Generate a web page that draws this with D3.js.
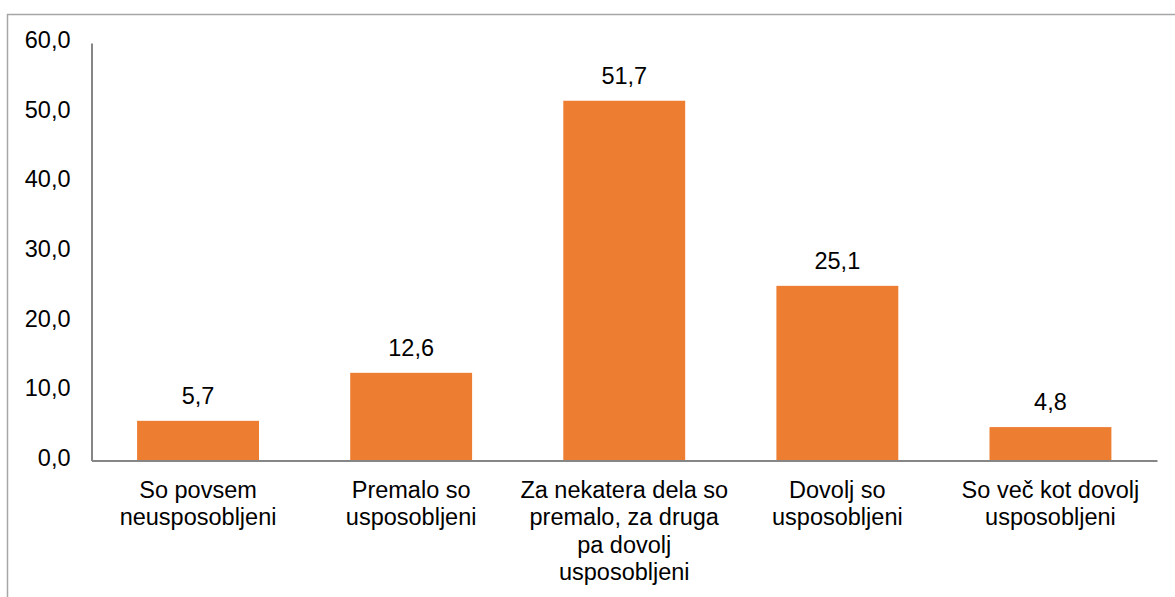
<!DOCTYPE html>
<html>
<head>
<meta charset="utf-8">
<script src="https://cdn.jsdelivr.net/npm/d3@7"></script>
<style>
  html, body { margin: 0; padding: 0; background: #fff; }
  svg text { font-family: "Liberation Sans", Arial, sans-serif; fill: #000; }
</style>
</head>
<body>
<svg id="chart" width="1175" height="597"></svg>
<script>
// categories (already broken into lines like the original)
var categories = [
	["So povsem", "neusposobljeni"],
	["Premalo so", "usposobljeni"],
	["Za nekatera dela so", "premalo, za druga", "pa dovolj", "usposobljeni"],
	["Dovolj so", "usposobljeni"],
	["So več kot dovolj", "usposobljeni"]
];
var values = [5.7, 12.6, 51.7, 25.1, 4.8];
var yTicks = [0, 10, 20, 30, 40, 50, 60];

var plot = {left: 91.5, right: 1157, top: 43, bottom: 460.5};
var fontSize = 23.5;
var fmt = function(v) { return d3.format(".1f")(v).replace('.', ','); };

var svg = d3.select('#chart');

// outer frame of the chart area (cut off on right and bottom)
svg.append('rect')
	.attr('x', 7.5).attr('y', 14.5)
	.attr('width', 1200).attr('height', 700)
	.attr('fill', 'none')
	.attr('stroke', '#a6a6a6')
	.attr('stroke-width', 1.5);

var x = d3.scaleBand()
	.domain(d3.range(categories.length))
	.range([plot.left, plot.right])
	.paddingInner(0.428)
	.paddingOuter(0.214);

var y = d3.scaleLinear()
	.domain([0, 60])
	.range([plot.bottom, plot.top]);

// bars
svg.selectAll('rect.bar')
	.data(values)
	.enter().append('rect')
	.attr('class', 'bar')
	.attr('x', (d, i) => x(i))
	.attr('y', d => y(d))
	.attr('width', x.bandwidth())
	.attr('height', d => y(0) - y(d))
	.attr('fill', '#ED7D31');

// value labels
svg.selectAll('text.val')
	.data(values)
	.enter().append('text')
	.attr('class', 'val')
	.attr('x', (d, i) => x(i) + x.bandwidth() / 2)
	.attr('y', d => y(d) - 17)
	.attr('text-anchor', 'middle')
	.style('font-size', fontSize + 'px')
	.text(d => fmt(d));

// y axis
var yAxis = d3.axisLeft(y)
	.tickValues(yTicks)
	.tickFormat(fmt)
	.tickSize(0)
	.tickPadding(21);

var gy = svg.append('g')
	.attr('transform', 'translate(' + plot.left + ',0)')
	.call(yAxis);
gy.select('.domain').attr('stroke', '#868686').attr('stroke-width', 2);
gy.selectAll('text')
	.attr('dy', '0.2em')
	.style('font-size', fontSize + 'px')
	.style('font-family', '"Liberation Sans", Arial, sans-serif')
	.attr('fill', '#000');

// x axis line
var xAxis = d3.axisBottom(x).tickSize(0).tickFormat('');
var gx = svg.append('g')
	.attr('transform', 'translate(0,' + plot.bottom + ')')
	.call(xAxis);
gx.select('.domain').attr('stroke', '#868686').attr('stroke-width', 2);

// category labels, multi-line
var cat = svg.selectAll('text.cat')
	.data(categories)
	.enter().append('text')
	.attr('class', 'cat')
	.attr('text-anchor', 'middle')
	.style('font-size', fontSize + 'px');

cat.selectAll('tspan')
	.data((d, i) => d.map(line => ({line: line, i: i})))
	.enter().append('tspan')
	.attr('x', d => x(d.i) + x.bandwidth() / 2)
	.attr('y', (d, j) => plot.bottom + 37.5 + j * 27.3)
	.text(d => d.line);
</script>
</body>
</html>
